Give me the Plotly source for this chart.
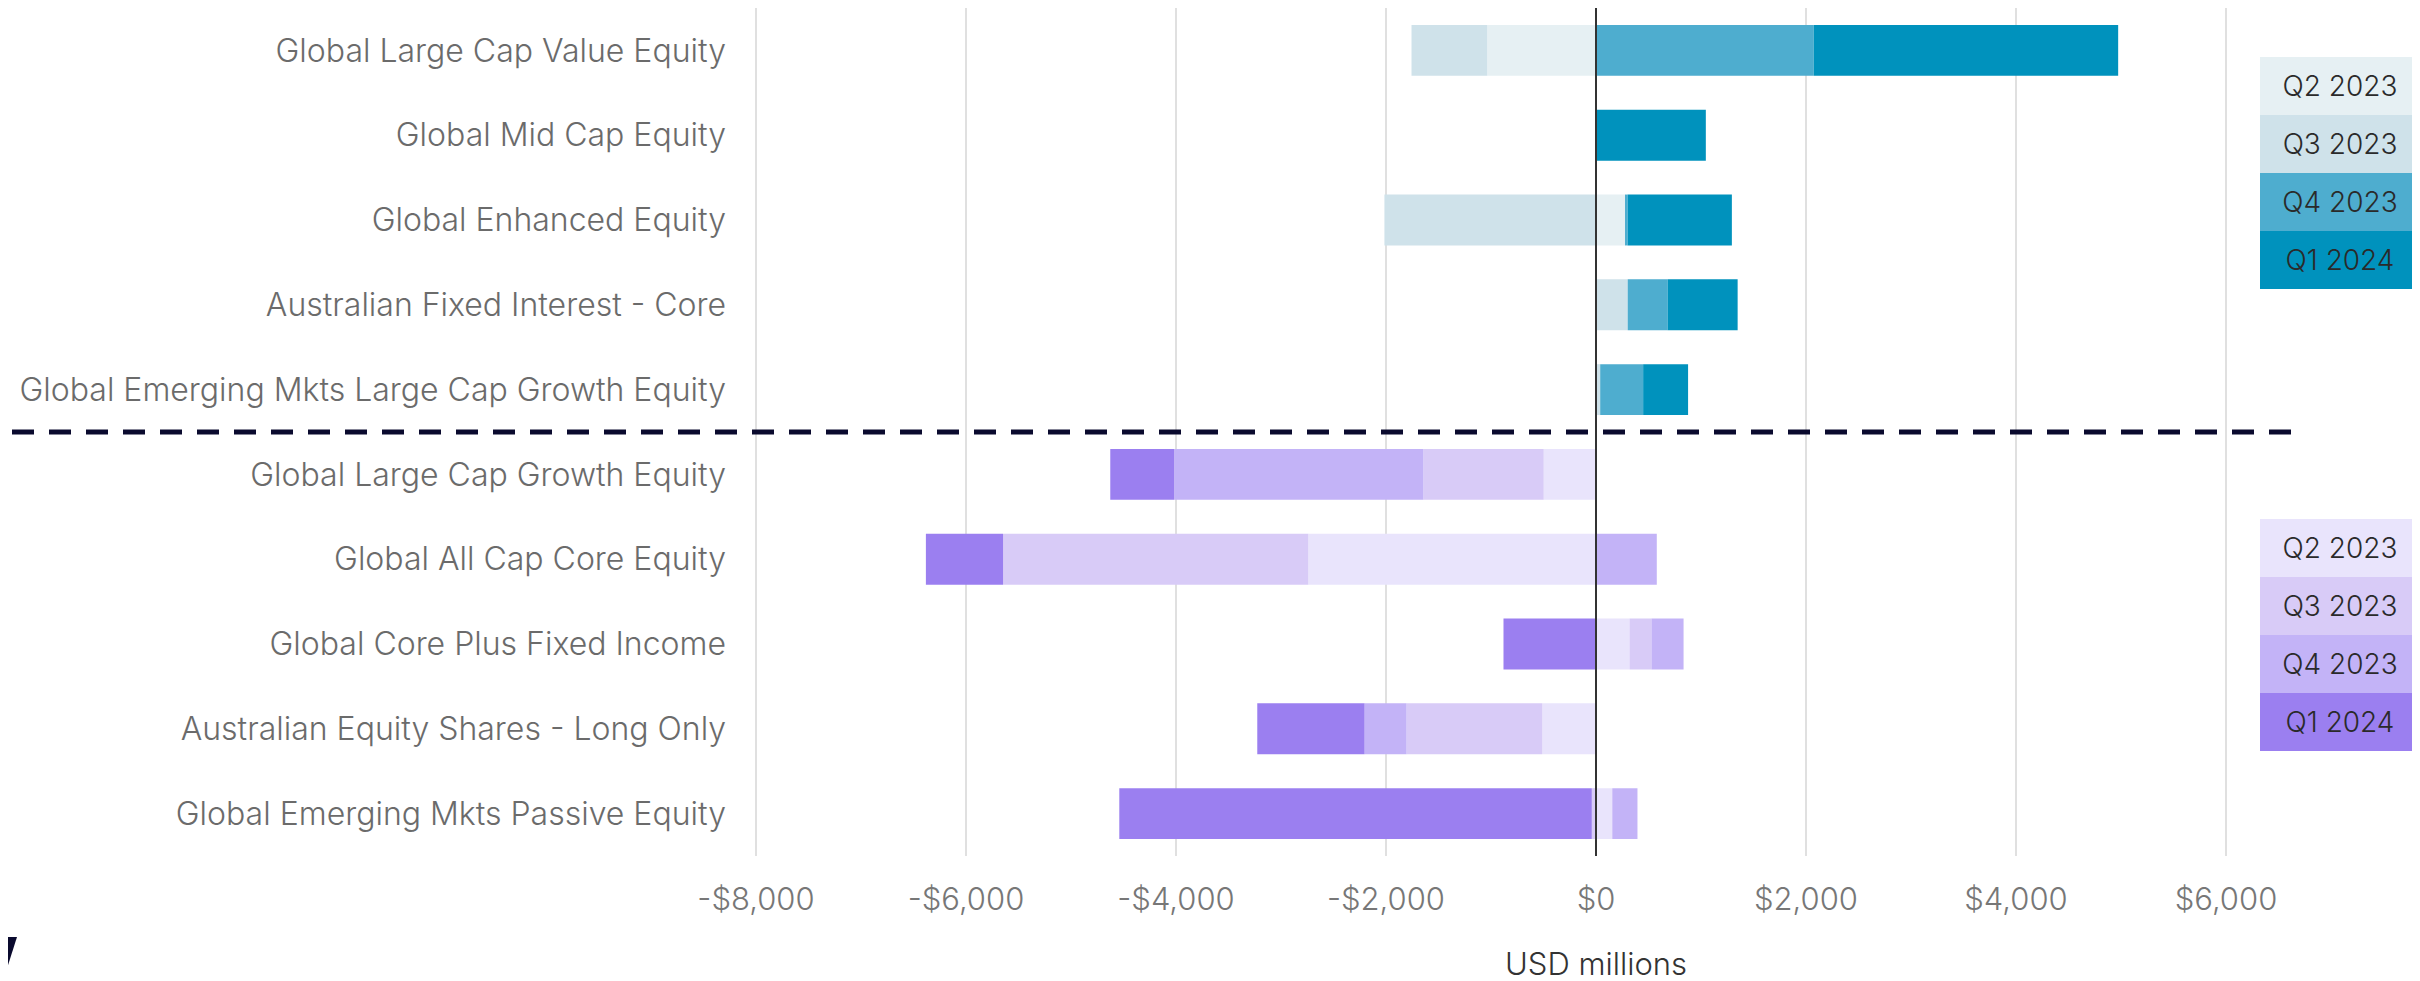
import plotly.graph_objects as go

# --- data (USD millions) ---
quarters = ["Q2 2023", "Q3 2023", "Q4 2023", "Q1 2024"]

inflow_funds = [
    "Global Large Cap Value Equity",
    "Global Mid Cap Equity",
    "Global Enhanced Equity",
    "Australian Fixed Interest - Core",
    "Global Emerging Mkts Large Cap Growth Equity",
]
outflow_funds = [
    "Global Large Cap Growth Equity",
    "Global All Cap Core Equity",
    "Global Core Plus Fixed Income",
    "Australian Equity Shares - Long Only",
    "Global Emerging Mkts Passive Equity",
]

# flows per quarter, in fund order above
inflow_q2_2023 = [-1036, 0, 282, 0, 0]
inflow_q3_2023 = [-721, 0, -2015, 302, 40]
inflow_q4_2023 = [2073, 0, 19, 380, 409]
inflow_q1_2024 = [2900, 1046, 993, 667, 428]

outflow_q2_2023 = [-498, -2740, 319, -511, 155]
outflow_q3_2023 = [-1145, -2907, 209, -1293, -40]
outflow_q4_2023 = [-2374, 579, 306, -400, 240]
outflow_q1_2024 = [-609, -735, -881, -1022, -4500]

tick_vals = [-8000, -6000, -4000, -2000, 0, 2000, 4000, 6000]
tick_text = ["-$8,000", "-$6,000", "-$4,000", "-$2,000", "$0", "$2,000", "$4,000", "$6,000"]

blue = ["#e6f0f3", "#cfe2ea", "#4eadcf", "#0092bd"]
purple = ["#e9e4fc", "#d8cbf7", "#c3b3f7", "#9b7ff0"]

# --- geometry (page pixels; the page body adds an 8px offset) ---
OFF = 8
W, H = 2420 - OFF, 981 - OFF
PLOT_L, PLOT_R, PLOT_T, PLOT_B = 745, 2420, 8, 856   # page coords
PX_PER_UNIT = 0.105
ZERO_PX = 1596                                       # page coord of $0

L = PLOT_L - OFF
R = W - (PLOT_R - OFF)
T = PLOT_T - OFF
B = H - (PLOT_B - OFF)


def px_x(px):
    return (px - PLOT_L) / (PLOT_R - PLOT_L)


def px_y(py):
    return (PLOT_B - py) / (PLOT_B - PLOT_T)


x_range = [(PLOT_L - ZERO_PX) / PX_PER_UNIT, (PLOT_R - ZERO_PX) / PX_PER_UNIT]

FONT = "Inter, 'Noto Sans', sans-serif"

fig = go.Figure()

inflow_series = [inflow_q2_2023, inflow_q3_2023, inflow_q4_2023, inflow_q1_2024]
outflow_series = [outflow_q2_2023, outflow_q3_2023, outflow_q4_2023, outflow_q1_2024]

for q, vals, col in zip(quarters, inflow_series, blue):
    fig.add_trace(go.Bar(
        y=inflow_funds, x=vals, orientation="h", name=q,
        marker=dict(color=col, line=dict(width=0)),
    ))
for q, vals, col in zip(quarters, outflow_series, purple):
    fig.add_trace(go.Bar(
        y=outflow_funds, x=vals, orientation="h", name=q,
        marker=dict(color=col, line=dict(width=0)),
    ))

# zero line drawn over the bars
fig.add_shape(type="line", xref="x", yref="paper", x0=0, x1=0, y0=0, y1=1,
              line=dict(color="#333333", width=2), layer="above")

# dashed divider between the two groups
fig.add_shape(type="line", xref="paper", yref="paper",
              x0=px_x(12), x1=px_x(2296), y0=px_y(432), y1=px_y(432),
              line=dict(color="#0a0a2e", width=5, dash="22px,15px"), layer="above")

# logo fragment, bottom left
pts = [(-10, 937), (17, 937), (3, 981), (-24, 981)]
path = "M " + " L ".join(f"{px_x(a):.5f},{px_y(b):.5f}" for a, b in pts) + " Z"
fig.add_shape(type="path", xref="paper", yref="paper", path=path,
              fillcolor="#0a0a2e", line=dict(width=0), layer="above")

# custom legends: colour boxes with labels
BOX_W, BOX_H = 160, 58
for top, cols in ((57, blue), (519, purple)):
    for i, (q, col) in enumerate(zip(quarters, cols)):
        cy = top + BOX_H * i + BOX_H / 2
        fig.add_annotation(
            x=px_x(2340), y=px_y(cy), xref="paper", yref="paper",
            text=q, showarrow=False, xanchor="center", yanchor="middle",
            width=BOX_W, height=BOX_H, bgcolor=col, borderpad=0, borderwidth=0,
            font=dict(family=FONT, size=28, color="#2a2a2a", weight=300),
        )

# axis title
fig.add_annotation(
    x=0, y=px_y(964), xref="x", yref="paper", text="USD millions",
    showarrow=False, xanchor="center", yanchor="middle",
    font=dict(family=FONT, size=31, color="#333333", weight=300),
)

fig.update_layout(
    width=W, height=H,
    barmode="relative", bargap=0.4,
    showlegend=False,
    paper_bgcolor="white", plot_bgcolor="white",
    margin=dict(l=L, r=R, t=T, b=B, autoexpand=False),
    xaxis=dict(
        range=x_range, tickvals=tick_vals, ticktext=tick_text,
        showgrid=True, gridcolor="#e0e0e0", gridwidth=2,
        zeroline=False, showline=False, ticks="",
        ticklabelstandoff=22,
        tickfont=dict(family=FONT, size=31, color="#777777", weight=300),
    ),
    yaxis=dict(
        categoryorder="array", categoryarray=inflow_funds + outflow_funds,
        autorange="reversed",
        showgrid=False, zeroline=False, showline=False, ticks="",
        ticklabelstandoff=18,
        tickfont=dict(family=FONT, size=32, color="#6b6b6b", weight=300),
    ),
)

fig.write_html("out.html")
